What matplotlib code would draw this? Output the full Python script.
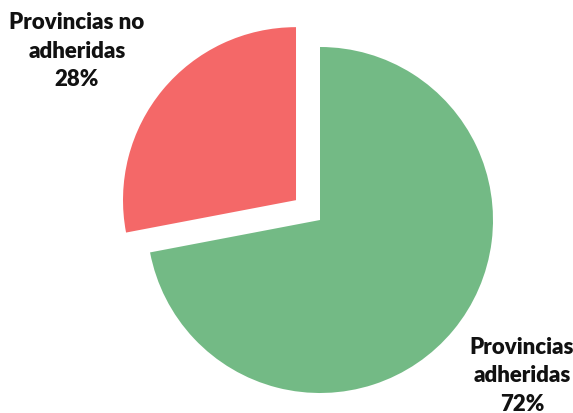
import matplotlib

matplotlib.use("Agg")
import matplotlib.pyplot as plt

labels = ["Provincias\nadheridas", "Provincias no\nadheridas"]
shares = [72, 28]
colors = ["#73BA85", "#F46868"]
explode = [0, 0.18]  # fraction of radius

W, H = 573, 414
R = 173
fig = plt.figure(figsize=(W / 100, H / 100), dpi=100)
ax = fig.add_axes([0, 0, 1, 1])

# pie explode offsets are in data units, so scale by the radius
ax.pie(shares, colors=colors, explode=[e * R for e in explode], startangle=90,
       counterclock=False, radius=R, center=(320, H - 221), frame=True,
       wedgeprops=dict(linewidth=0))
ax.set_xlim(0, W)
ax.set_ylim(0, H)
ax.axis("off")

# label text positions (pixels from top-left)
label_pos = [(522, 376), (77, 51)]
for lab, v, (x, y) in zip(labels, shares, label_pos):
    ax.text(x, H - y, f"{lab}\n{v}%", ha="center", va="center",
            fontsize=16, fontweight="heavy", family="Lato",
            linespacing=1.42, color="#111111")

fig.savefig("out.png", dpi=100)
